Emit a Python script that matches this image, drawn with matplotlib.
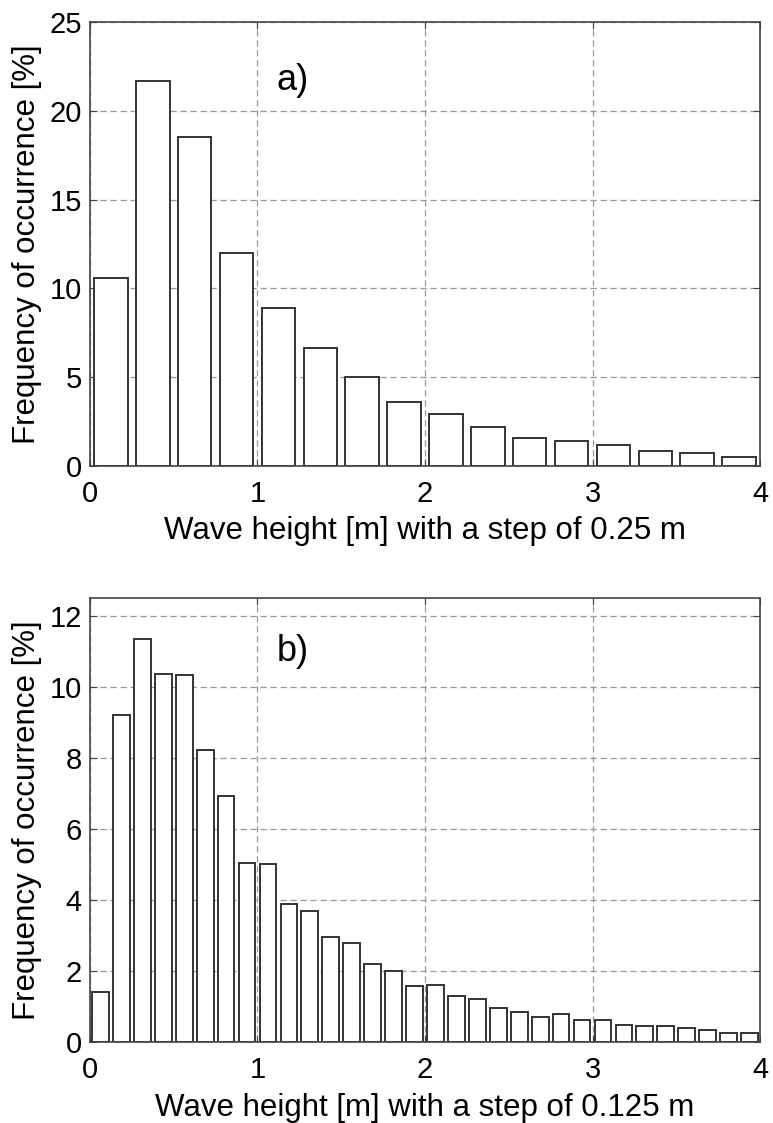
import numpy as np
import matplotlib
matplotlib.use('Agg')
import matplotlib.pyplot as plt

# wave height histograms
step_a = 0.25
freq_a = [10.6, 21.7, 18.5, 12.0, 8.9, 6.65, 5.0, 3.6,
          2.94, 2.2, 1.6, 1.39, 1.16, 0.86, 0.71, 0.52]

step_b = 0.125
freq_b = [1.42, 9.2, 11.35, 10.35, 10.33, 8.22, 6.93, 5.05,
          5.02, 3.89, 3.71, 2.96, 2.80, 2.22, 2.0, 1.6,
          1.62, 1.32, 1.23, 0.97, 0.87, 0.73, 0.80, 0.62,
          0.64, 0.49, 0.45, 0.45, 0.40, 0.35, 0.27, 0.26]

x_ticks = [0, 1, 2, 3, 4]
y_ticks_a = [0, 5, 10, 15, 20, 25]
y_ticks_b = [0, 2, 4, 6, 8, 10, 12]

plt.rcParams['font.family'] = ['Liberation Sans', 'DejaVu Sans']

fig = plt.figure(figsize=(7.73, 11.23), dpi=100)
ax1 = fig.add_axes([0.1164, 0.585, 0.8668, 0.3954])
ax2 = fig.add_axes([0.1164, 0.0717, 0.8668, 0.3958])


def draw(ax, step, freq, yticks, ymax, label, label_y, xlabel):
    centers = step / 2 + step * np.arange(len(freq))
    ax.set_axisbelow(True)
    ax.bar(centers, freq, width=step * 0.8, color='white',
           edgecolor='#333333', linewidth=1.4)
    ax.set_xlim(0, 4)
    ax.set_ylim(0, ymax)
    ax.set_xticks(x_ticks)
    ax.set_yticks(yticks)
    ax.grid(True, color='#999999', linestyle=(0, (5, 3)), linewidth=0.9)
    ax.tick_params(direction='in', top=True, right=True, labelsize=21,
                   length=5, color='#444444')
    ax.tick_params(axis='x', pad=10)
    ax.tick_params(axis='y', pad=6)
    for s in ax.spines.values():
        s.set_color('#444444')
        s.set_linewidth(1.2)
    ax.set_xlabel(xlabel, fontsize=22.5, labelpad=6)
    ax.set_ylabel('Frequency of occurrence [%]', fontsize=22.5, labelpad=5)
    ax.text(1.21, label_y, label, fontsize=26, ha='center', va='center')


draw(ax1, step_a, freq_a, y_ticks_a, 25, 'a)', 21.7,
     'Wave height [m] with a step of 0.25 m')
draw(ax2, step_b, freq_b, y_ticks_b, 12.5, 'b)', 11.0,
     'Wave height [m] with a step of 0.125 m')

fig.savefig('out.png', dpi=100)
